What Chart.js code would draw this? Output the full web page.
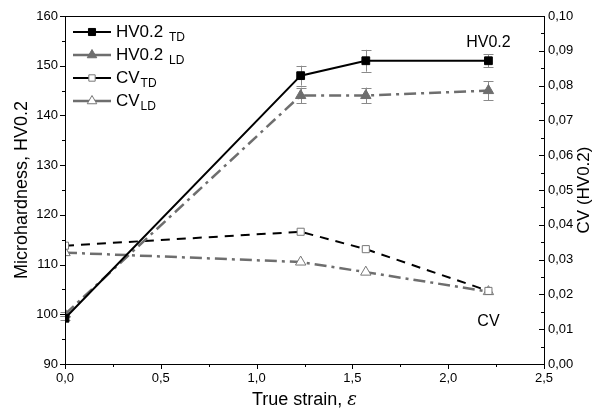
<!DOCTYPE html>
<html>
<head>
<meta charset="utf-8">
<script src="https://cdn.jsdelivr.net/npm/chart.js@4.4.1/dist/chart.umd.min.js"></script>
<style>
  html, body { margin: 0; padding: 0; background: #fff; }
  #wrap { width: 592px; height: 414px; }
</style>
</head>
<body>
<div id="wrap"><canvas id="chart"></canvas></div>
<script>
// Dados
const strain = [0, 1.23, 1.57, 2.21];
const hvTD = [99.2, 148, 151, 151];
const hvLD = [100, 144, 144, 145];
const hvTDErr = [0.4, 2, 2.2, 1.3];
const hvLDErr = [0.4, 1.6, 1.6, 1.9];
const cvTD = [0.034, 0.038, 0.033, 0.021];
const cvLD = [0.032, 0.0293, 0.0264, 0.0208];
const legendMain = ["HV0.2 ", "HV0.2 ", "CV", "CV"];
const legendSub = ["TD", "LD", "TD", "LD"];

const FONT = "Arial, 'Liberation Sans', sans-serif";
const GRAY = "#6e6e6e";

function points(ys) {
  return strain.map((x, i) => ({ x: x, y: ys[i] }));
}

// Barras de erro
const errorBars = {
  id: "errorBars",
  beforeDatasetsDraw(chart) {
    const ctx = chart.ctx;
    const x = chart.scales.x;
    const y = chart.scales.y;
    ctx.save();
    ctx.strokeStyle = "#8a8a8a";
    ctx.lineWidth = 1;
    [[hvTD, hvTDErr], [hvLD, hvLDErr]].forEach(([vals, errs]) => {
      vals.forEach((v, i) => {
        const px = Math.round(x.getPixelForValue(strain[i])) + 0.5;
        const top = y.getPixelForValue(v + errs[i]);
        const bot = y.getPixelForValue(v - errs[i]);
        ctx.beginPath();
        ctx.moveTo(px, top); ctx.lineTo(px, bot);
        ctx.moveTo(px - 5, Math.round(top) + 0.5); ctx.lineTo(px + 5, Math.round(top) + 0.5);
        ctx.moveTo(px - 5, Math.round(bot) + 0.5); ctx.lineTo(px + 5, Math.round(bot) + 0.5);
        ctx.stroke();
      });
    });
    ctx.restore();
  }
};

// Moldura, ticks, títulos, legenda e anotações
const decorations = {
  id: "decorations",
  afterDraw(chart) {
    const { ctx, chartArea: a, scales } = chart;
    ctx.save();
    ctx.strokeStyle = "#000";
    ctx.lineWidth = 1;
    ctx.strokeRect(a.left + 0.5, a.top + 0.5, a.right - a.left, a.bottom - a.top);

    const line = (x1, y1, x2, y2) => {
      ctx.beginPath(); ctx.moveTo(x1, y1); ctx.lineTo(x2, y2); ctx.stroke();
    };
    const withMinor = (scale) => {
      const vals = scale.ticks.map((t) => t.value);
      const out = [];
      vals.forEach((v, i) => {
        out.push([v, true]);
        if (i < vals.length - 1) out.push([(v + vals[i + 1]) / 2, false]);
      });
      return out;
    };
    // eixo esquerdo: ticks para fora
    withMinor(scales.y).forEach(([v, major]) => {
      const py = Math.round(scales.y.getPixelForValue(v)) + 0.5;
      line(a.left - (major ? 5 : 3), py, a.left, py);
    });
    // eixo direito: ticks para dentro
    withMinor(scales.y1).forEach(([v, major]) => {
      const py = Math.round(scales.y1.getPixelForValue(v)) + 0.5;
      line(a.right - (major ? 5 : 3), py, a.right, py);
    });
    // eixo inferior
    withMinor(scales.x).forEach(([v, major]) => {
      const px = Math.round(scales.x.getPixelForValue(v)) + 0.5;
      line(px, a.bottom, px, a.bottom + (major ? 5 : 3));
    });

    // títulos dos eixos
    ctx.fillStyle = "#000";
    ctx.textBaseline = "middle";
    ctx.font = "18px " + FONT;
    ctx.save();
    ctx.translate(22, (a.top + a.bottom) / 2);
    ctx.rotate(-Math.PI / 2);
    ctx.textAlign = "center";
    ctx.fillText("Microhardness, HV0.2", 0, 0);
    ctx.restore();

    ctx.save();
    ctx.font = "17px " + FONT;
    ctx.translate(584, (a.top + a.bottom) / 2);
    ctx.rotate(-Math.PI / 2);
    ctx.textAlign = "center";
    ctx.fillText("CV (HV0.2)", 0, 0);
    ctx.restore();

    const t1 = "True strain, ";
    ctx.font = "18px " + FONT;
    const w1 = ctx.measureText(t1).width;
    ctx.font = "italic 18px 'DejaVu Serif', serif";
    const w2 = ctx.measureText("ε").width;
    let tx = (a.left + a.right) / 2 - (w1 + w2) / 2;
    ctx.textAlign = "left";
    ctx.font = "18px " + FONT;
    ctx.fillText(t1, tx, 400);
    ctx.font = "italic 18px 'DejaVu Serif', serif";
    ctx.fillText("ε", tx + w1, 400);

    // legenda
    chart.data.datasets.forEach((ds, i) => {
      const ly = a.top + 16 + i * 23;
      const lx = a.left + 8;
      ctx.save();
      ctx.strokeStyle = ds.borderColor;
      ctx.lineWidth = ds.borderWidth;
      ctx.setLineDash([]);
      line(lx, ly, lx + 38, ly);
      ctx.fillStyle = ds.pointBackgroundColor;
      ctx.strokeStyle = ds.pointBorderColor;
      ctx.lineWidth = ds.pointBorderWidth;
      Chart.helpers.drawPoint(ctx, {
        pointStyle: ds.pointStyle, radius: ds.pointRadius - 0.5,
        rotation: 0, borderWidth: ds.pointBorderWidth
      }, lx + 19, ly);
      ctx.restore();
      ctx.fillStyle = "#000";
      ctx.textAlign = "left";
      ctx.font = "17px " + FONT;
      const tx0 = lx + 43;
      ctx.fillText(legendMain[i], tx0, ly);
      const mw = ctx.measureText(legendMain[i]).width;
      ctx.font = "12px " + FONT;
      ctx.fillText(legendSub[i], tx0 + mw + 1, ly + 6);
    });

    // anotações
    ctx.font = "16px " + FONT;
    ctx.textAlign = "center";
    const last = strain.length - 1;
    const ax = scales.x.getPixelForValue(strain[last]);
    ctx.fillText("HV0.2", ax, scales.y.getPixelForValue(hvTD[last]) - 18);
    ctx.fillText("CV", ax, scales.y1.getPixelForValue(cvTD[last]) + 31);
    ctx.restore();
  }
};

const ctx = document.getElementById("chart").getContext("2d");
const chart = new Chart(ctx, {
  type: "line",
  data: {
    datasets: [
      {
        label: "HV0.2 TD",
        data: points(hvTD),
        yAxisID: "y",
        borderColor: "#000",
        borderWidth: 2,
        pointStyle: "rect",
        pointRadius: 5.5,
        pointBackgroundColor: "#000",
        pointBorderColor: "#000",
        pointBorderWidth: 1,
      },
      {
        label: "HV0.2 LD",
        data: points(hvLD),
        yAxisID: "y",
        borderColor: GRAY,
        borderWidth: 2.5,
        borderDash: [12, 5, 3, 5],
        pointStyle: "triangle",
        pointRadius: 6,
        pointBackgroundColor: GRAY,
        pointBorderColor: GRAY,
        pointBorderWidth: 1,
      },
      {
        label: "CV TD",
        data: points(cvTD),
        yAxisID: "y1",
        borderColor: "#000",
        borderWidth: 2,
        borderDash: [9, 7],
        pointStyle: "rect",
        pointRadius: 5,
        pointBackgroundColor: "#fff",
        pointBorderColor: "#777",
        pointBorderWidth: 1,
      },
      {
        label: "CV LD",
        data: points(cvLD),
        yAxisID: "y1",
        borderColor: GRAY,
        borderWidth: 2.5,
        borderDash: [12, 5, 3, 5],
        pointStyle: "triangle",
        pointRadius: 6,
        pointBackgroundColor: "#fff",
        pointBorderColor: "#777",
        pointBorderWidth: 1,
      },
    ],
  },
  options: {
    responsive: true,
    maintainAspectRatio: false,
    animation: false,
    layout: { padding: { top: 16, left: 0, right: 0, bottom: 0 } },
    plugins: { legend: { display: false }, tooltip: { enabled: false } },
    scales: {
      x: {
        type: "linear",
        min: 0,
        max: 2.5,
        grid: { display: false, drawTicks: false },
        border: { display: false },
        ticks: {
          stepSize: 0.5,
          padding: 7,
          color: "#000",
          font: { size: 13, family: FONT },
          callback: (v) => v.toFixed(1).replace(".", ","),
        },
        afterFit: (s) => { s.height = 50; },
      },
      y: {
        position: "left",
        min: 90,
        max: 160,
        grid: { display: false, drawTicks: false },
        border: { display: false },
        ticks: {
          stepSize: 10,
          padding: 7,
          color: "#000",
          font: { size: 13, family: FONT },
        },
        afterFit: (s) => { s.width = 65; },
      },
      y1: {
        position: "right",
        min: 0,
        max: 0.1,
        grid: { display: false, drawTicks: false },
        border: { display: false },
        ticks: {
          stepSize: 0.01,
          padding: 4,
          color: "#000",
          font: { size: 13, family: FONT },
          callback: (v) => v.toFixed(2).replace(".", ","),
        },
        afterFit: (s) => { s.width = 48; },
      },
    },
  },
  plugins: [errorBars, decorations],
});
</script>
</body>
</html>
